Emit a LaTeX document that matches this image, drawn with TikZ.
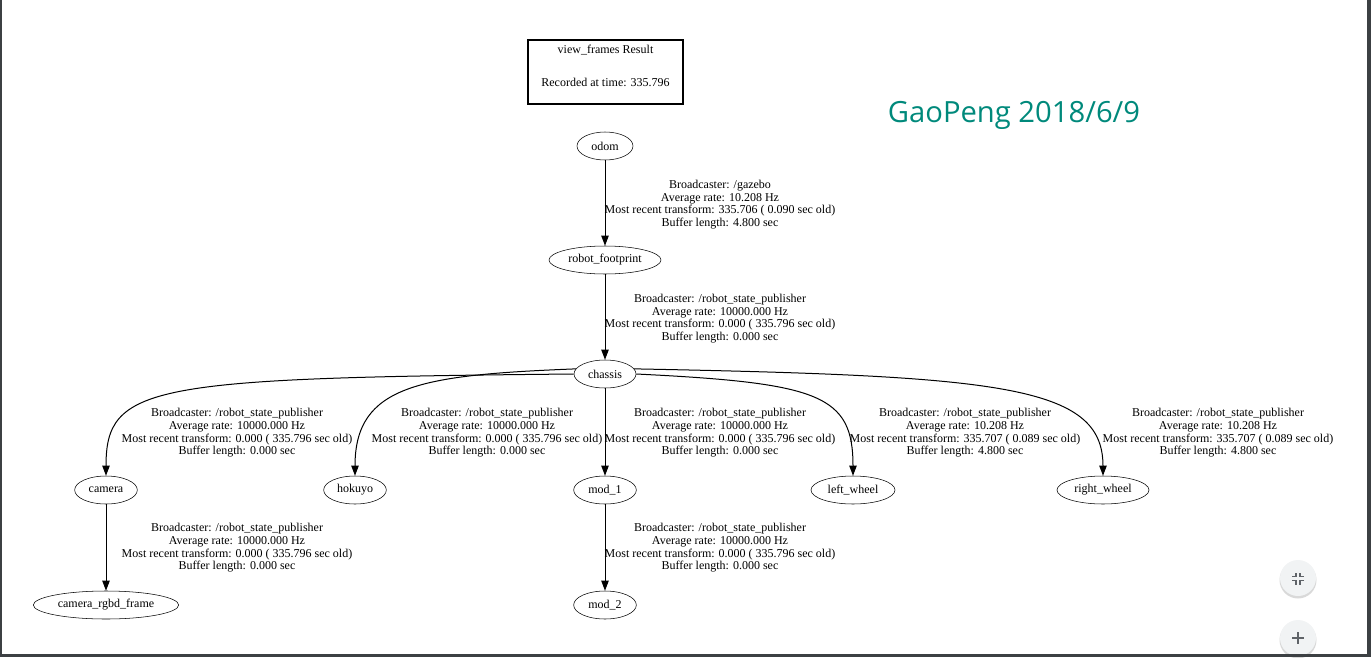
\documentclass[tikz,border=0pt]{standalone}
\usepackage{fontspec}
\setmainfont{Liberation Serif}
\newfontfamily\markfont{Open Sans}
\usetikzlibrary{shapes.geometric,arrows.meta}
\definecolor{framegray}{RGB}{60,64,67}
\definecolor{markteal}{RGB}{0,137,123}
\definecolor{btngray}{RGB}{241,243,244}
\definecolor{icongray}{RGB}{95,99,104}
\tikzset{
tfnode/.style={draw,ellipse,minimum height=21pt,inner sep=0pt,
  font=\fontsize{9}{9.5}\selectfont},
tflabel/.style={align=center,inner sep=0pt,font=\fontsize{9}{9.5}\selectfont},
tfedge/.style={-{Triangle[length=7.5pt,width=5.5pt]},line width=0.75pt},
btn/.style={circle,fill=btngray,minimum size=27pt,inner sep=0pt}
}

\begin{document}
\begin{tikzpicture}[x=0.75pt,y=-0.75pt]
\useasboundingbox (0,0) rectangle (1371,657);

% title box
\node[draw,line width=1.5pt,minimum width=116pt,minimum height=48pt] (title) at (605.5,72) {};
\node[tflabel] (titletext) at (605.5,66) {view\_frames Result\\[15.2pt]Recorded at time: 335.796};

\node[text=markteal,font=\markfont\fontsize{21.9}{26}\selectfont] (mark) at (1014,115) {GaoPeng 2018/6/9};

% frames
\node[tfnode,minimum width=42pt] (odom) at (605,146) {odom};
\node[tfnode,minimum width=84pt] (footprint) at (605,260) {robot\_footprint};
\node[tfnode,minimum width=46.5pt] (chassis) at (605,374) {chassis};
\node[tfnode,minimum width=47pt] (camera) at (106,490) {camera};
\node[tfnode,minimum width=47pt] (hokuyo) at (355,490) {hokuyo};
\node[tfnode,minimum width=47pt] (mod1) at (605,490) {mod\_1};
\node[tfnode,minimum width=63pt] (leftwheel) at (853,490) {left\_wheel};
\node[tfnode,minimum width=69pt] (rightwheel) at (1103,490) {right\_wheel};
\node[tfnode,minimum width=109pt] (rgbd) at (106,605) {camera\_rgbd\_frame};
\node[tfnode,minimum width=47pt] (mod2) at (605,605) {mod\_2};

% transforms
\draw[tfedge] (odom) -- (footprint);
\draw[tfedge] (footprint) -- (chassis);
\draw[tfedge] (chassis.west) .. controls (150,378) and (106,385) .. (camera.north);
\draw[tfedge] (chassis.170) .. controls (420,375) and (355,385) .. (hokuyo.north);
\draw[tfedge] (chassis) -- (mod1);
\draw[tfedge] (chassis.east) .. controls (820,383) and (853,395) .. (leftwheel.north);
\draw[tfedge] (chassis.10) .. controls (1000,376) and (1103,385) .. (rightwheel.north);
\draw[tfedge] (camera) -- (rgbd);
\draw[tfedge] (mod1) -- (mod2);

\node[tflabel] (lodom) at (720,204.5) {Broadcaster: /gazebo\\Average rate: 10.208 Hz\\Most recent transform: 335.706 ( 0.090 sec old)\\Buffer length: 4.800 sec};
\node[tflabel] (lfoot) at (720,318.5) {Broadcaster: /robot\_state\_publisher\\Average rate: 10000.000 Hz\\Most recent transform: 0.000 ( 335.796 sec old)\\Buffer length: 0.000 sec};
\node[tflabel] (lcamera) at (237,433) {Broadcaster: /robot\_state\_publisher\\Average rate: 10000.000 Hz\\Most recent transform: 0.000 ( 335.796 sec old)\\Buffer length: 0.000 sec};
\node[tflabel] (lhokuyo) at (487,433) {Broadcaster: /robot\_state\_publisher\\Average rate: 10000.000 Hz\\Most recent transform: 0.000 ( 335.796 sec old)\\Buffer length: 0.000 sec};
\node[tflabel] (lmod1) at (720,433) {Broadcaster: /robot\_state\_publisher\\Average rate: 10000.000 Hz\\Most recent transform: 0.000 ( 335.796 sec old)\\Buffer length: 0.000 sec};
\node[tflabel] (lleft) at (965,433) {Broadcaster: /robot\_state\_publisher\\Average rate: 10.208 Hz\\Most recent transform: 335.707 ( 0.089 sec old)\\Buffer length: 4.800 sec};
\node[tflabel] (lright) at (1218,433) {Broadcaster: /robot\_state\_publisher\\Average rate: 10.208 Hz\\Most recent transform: 335.707 ( 0.089 sec old)\\Buffer length: 4.800 sec};
\node[tflabel] (lrgbd) at (237,548) {Broadcaster: /robot\_state\_publisher\\Average rate: 10000.000 Hz\\Most recent transform: 0.000 ( 335.796 sec old)\\Buffer length: 0.000 sec};
\node[tflabel] (lmod2) at (720,548) {Broadcaster: /robot\_state\_publisher\\Average rate: 10000.000 Hz\\Most recent transform: 0.000 ( 335.796 sec old)\\Buffer length: 0.000 sec};

% viewer buttons
\fill[black!15] (1298,580) circle (18.5);
\node[btn] (shrink) at (1298,578) {};
\draw[icongray,line width=1.1pt] (1292,576.5) -- (1296,576.5) -- (1296,572.5)
  (1304,576.5) -- (1300,576.5) -- (1300,572.5)
  (1292,580.5) -- (1296,580.5) -- (1296,584.5)
  (1304,580.5) -- (1300,580.5) -- (1300,584.5);
\fill[black!15] (1298,640) circle (18.5);
\node[btn] (zoomin) at (1298,638) {};
\draw[icongray,line width=1.1pt] (1292,638) -- (1304,638) (1298,632) -- (1298,644);

% window frame
\fill[framegray] (0,0) rectangle (2,657);
\fill[framegray] (1367,0) rectangle (1371,657);
\fill[framegray] (0,654) rectangle (1371,657);
\end{tikzpicture}
\end{document}
